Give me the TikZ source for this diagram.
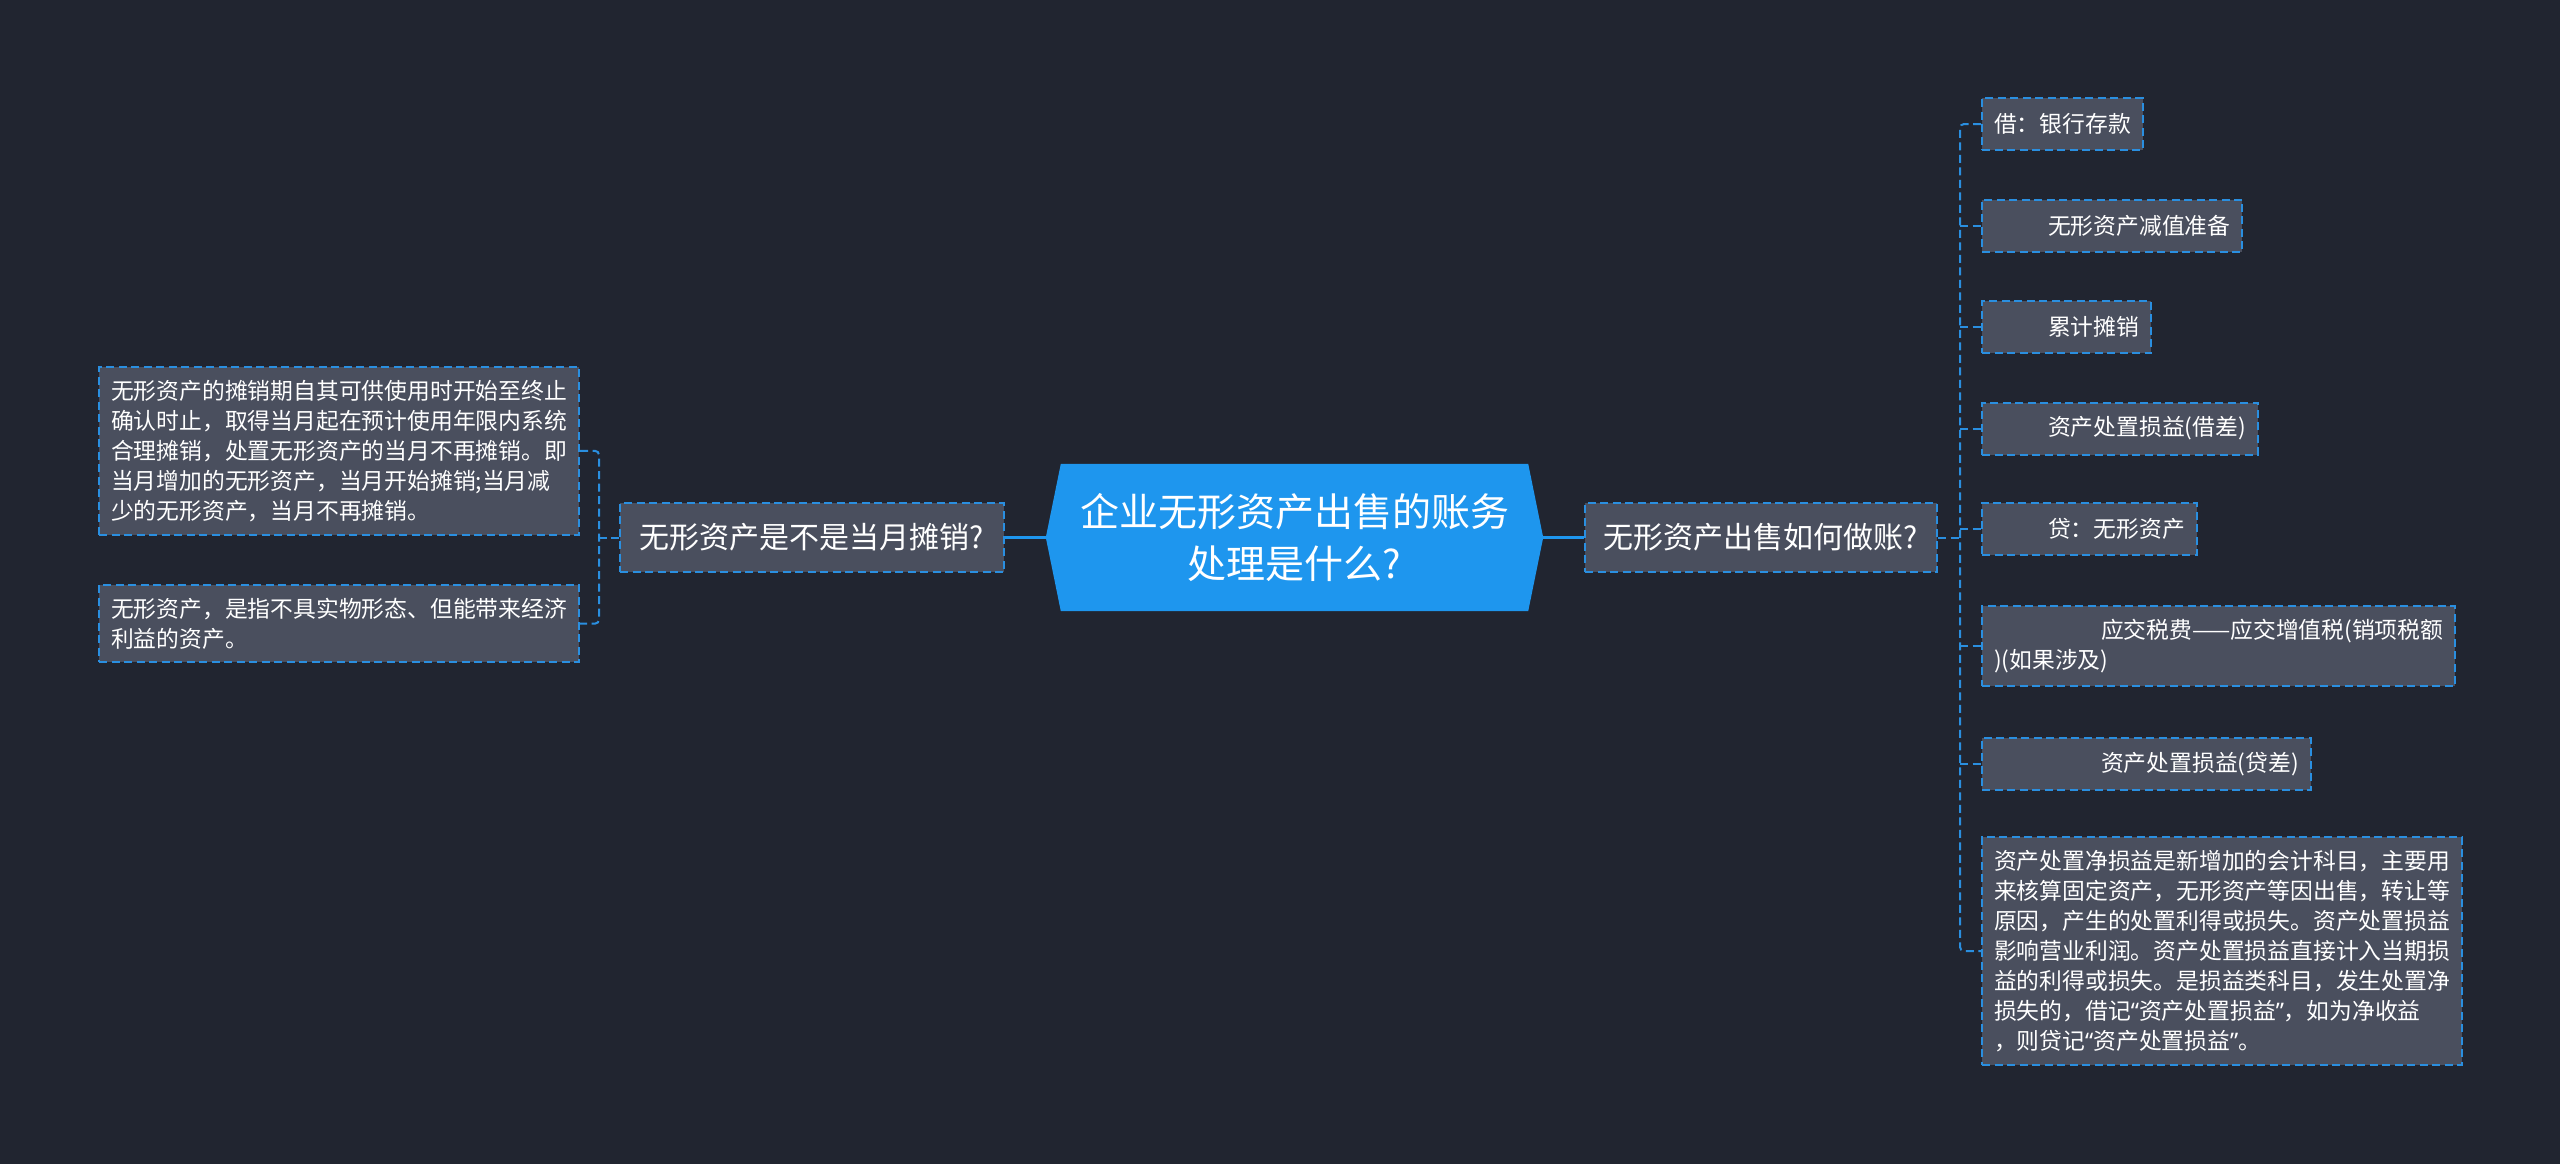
\documentclass[tikz,border=0pt]{standalone}
\usepackage{fontspec}
\setmainfont{Noto Sans CJK SC}
\newfontfamily\latino{Noto Sans}
\usetikzlibrary{backgrounds}
\definecolor{fondo}{HTML}{212530}
\definecolor{grigio}{HTML}{4A4F5E}
\definecolor{azzurro}{HTML}{1E96EE}
\definecolor{bordo}{HTML}{2A8FE0}
\newcommand{\apri}{{\latino“}}
\newcommand{\chiudi}{{\latino”}}
\begin{document}
\begin{tikzpicture}[x=1pt,y=-1pt,
    foglia/.style={draw=bordo,fill=grigio,line width=2pt,dash pattern=on 8pt off 4.5pt,text=white,
      inner xsep=12pt,inner ysep=13pt,font=\fontsize{22.8}{30}\selectfont,align=left},
    corta/.style={foglia,anchor=west,minimum height=52pt,inner ysep=6pt},
    ramo/.style={foglia,font=\fontsize{30}{38}\selectfont,minimum height=69pt},
    linea/.style={draw=bordo,line width=2pt,dash pattern=on 8pt off 4.5pt,rounded corners=4pt}]
  % centro
  \node[text=white,font=\fontsize{39}{52}\selectfont,align=center,minimum width=497pt,minimum height=147pt] (radice) at (1294.5,537.5) {企业无形资产出售的账务\\处理是什么?};
  \node[ramo,minimum width=384pt] (sx) at (812,537.5) {无形资产是不是当月摊销?};
  \node[ramo,minimum width=352pt] (dx) at (1761,537.5) {无形资产出售如何做账?};
  % sinistra
  \node[foglia,anchor=north west] (s1) at (98,366) {无形资产的摊销期自其可供使用时开始至终止\\确认时止，取得当月起在预计使用年限内系统\\合理摊销，处置无形资产的当月不再摊销。即\\当月增加的无形资产，当月开始摊销;当月减\\少的无形资产，当月不再摊销。};
  \node[foglia,anchor=north west] (s2) at (98,584) {无形资产，是指不具实物形态、但能带来经济\\利益的资产。};
  % destra
  \node[corta] (d1) at (1981,124) {借：银行存款};
  \node[corta] (d2) at (1981,225.5) {\hspace*{54pt}无形资产减值准备};
  \node[corta] (d3) at (1981,327) {\hspace*{54pt}累计摊销};
  \node[corta] (d4) at (1981,428.5) {\hspace*{54pt}资产处置损益(借差)};
  \node[corta] (d5) at (1981,529) {\hspace*{54pt}贷：无形资产};
  \node[foglia,anchor=west] (d6) at (1981,646) {\hspace*{107pt}应交税费——应交增值税(销项税额\\)(如果涉及)};
  \node[corta] (d7) at (1981,764) {\hspace*{107pt}资产处置损益(贷差)};
  \node[foglia,anchor=west] (d8) at (1981,951) {资产处置净损益是新增加的会计科目，主要用\\来核算固定资产，无形资产等因出售，转让等\\原因，产生的处置利得或损失。资产处置损益\\影响营业利润。资产处置损益直接计入当期损\\益的利得或损失。是损益类科目，发生处置净\\损失的，借记\apri 资产处置损益\chiudi，如为净收益\\，则贷记\apri 资产处置损益\chiudi。};
  \begin{pgfonlayer}{background}
    \fill[fondo] (0,0) rectangle (2560,1164);
    \fill[azzurro] ([xshift=15pt]radice.north west) -- (radice.west) -- ([xshift=15pt]radice.south west)
      -- ([xshift=-15pt]radice.south east) -- (radice.east) -- ([xshift=-15pt]radice.north east) -- cycle;
  \end{pgfonlayer}
  % linee
  \coordinate (bs) at (599,537.5);
  \coordinate (bd) at (1960,537.5);
  \draw[azzurro,line width=3pt] (radice.west) -- (sx.east);
  \draw[azzurro,line width=3pt] (radice.east) -- (dx.west);
  \draw[linea] (sx.west) -- (bs);
  \draw[linea] (s1.east) -| (bs) |- (s2.east);
  \draw[linea] (dx.east) -- (bd);
  \draw[linea] (d1.west) -| (bd) |- (d8.west);
  \foreach \n in {d2,d3,d4,d5,d6,d7}
    \draw[linea] (bd |- \n.west) -- (\n.west);
\end{tikzpicture}
\end{document}
